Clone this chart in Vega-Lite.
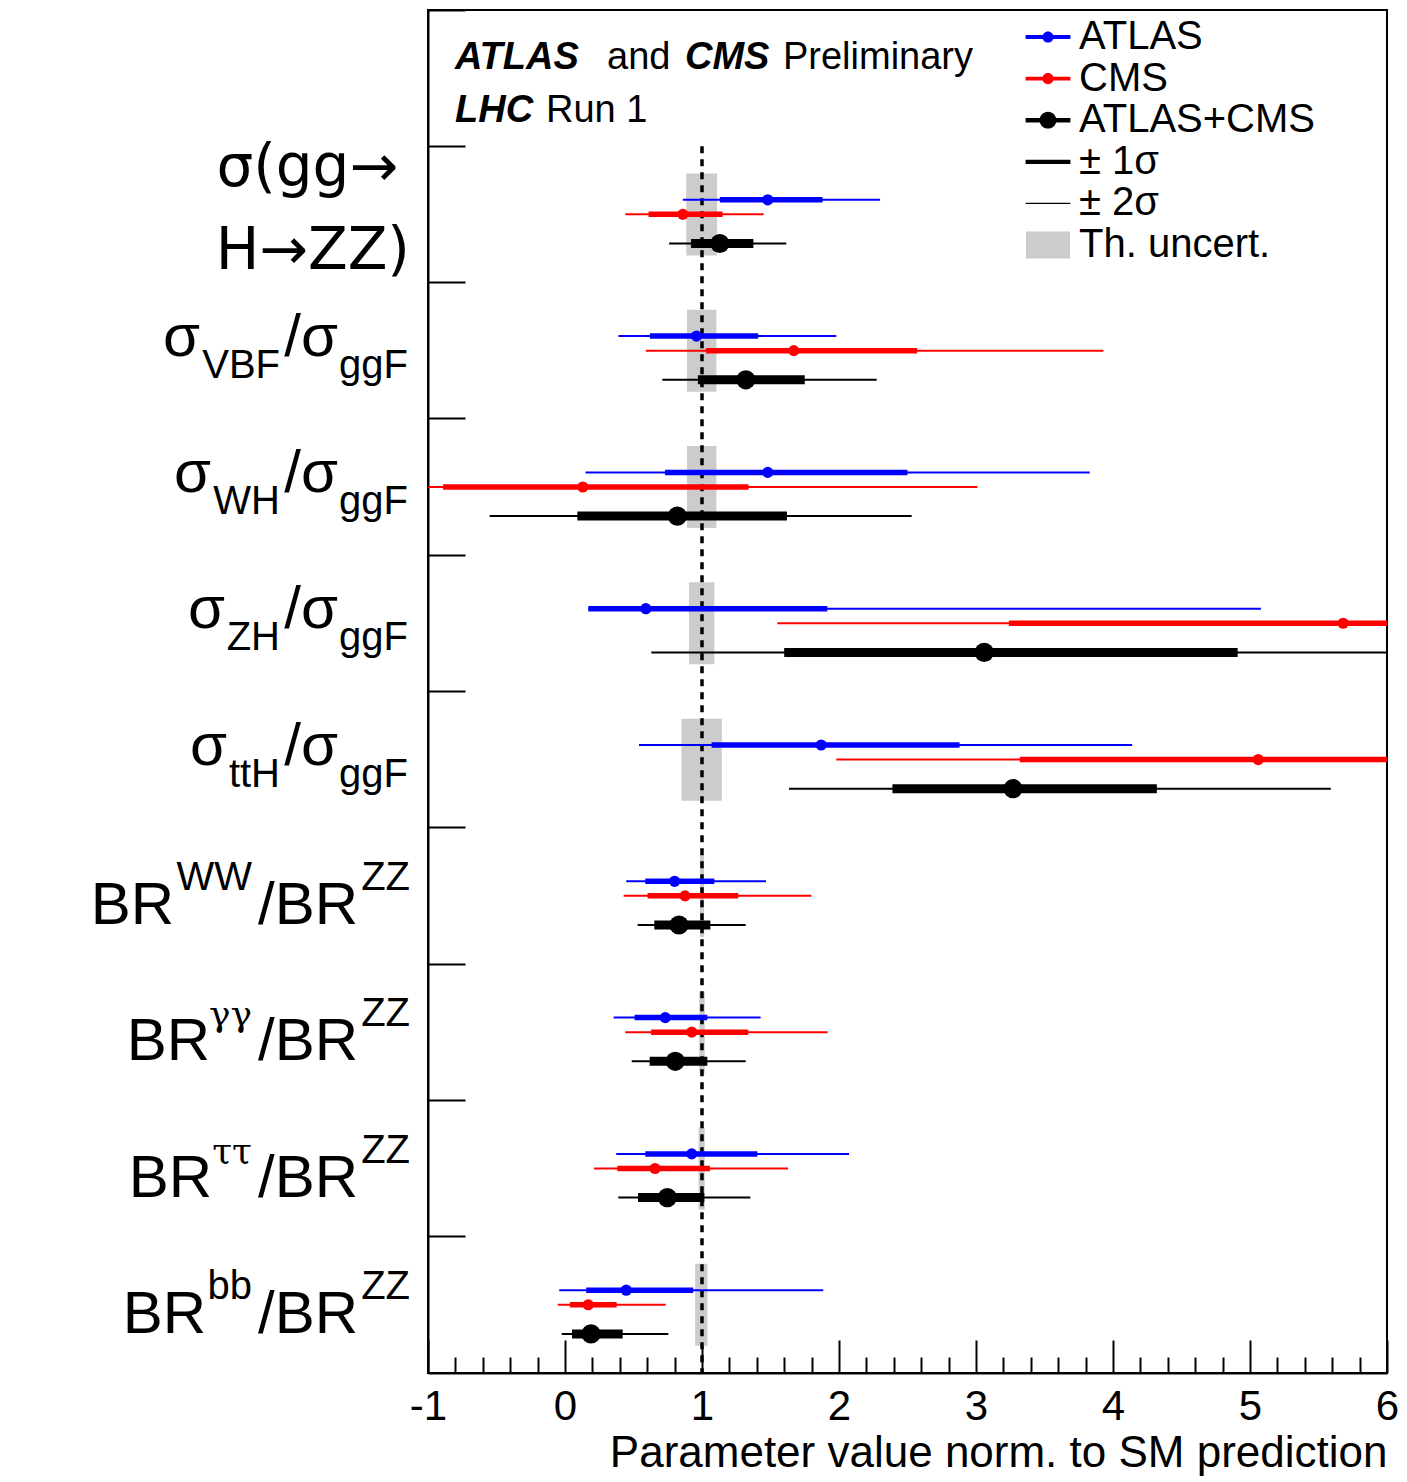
{
  "$schema": "https://vega.github.io/schema/vega-lite/v6.json",
  "autosize": "none",
  "padding": {"left": 428, "top": 10, "right": 20, "bottom": 109},
  "width": 959,
  "height": 1363,
  "config": {
    "font": "Liberation Sans",
    "view": {"stroke": "black", "strokeWidth": 2},
    "axis": {"grid": false}
  },
  "resolve": {"axis": {"x": "independent"}},
  "datasets": {
    "results": [
      {"cat": "σ(gg→H→ZZ)", "series": "ATLAS", "val": 1.48, "lo1": 1.13, "hi1": 1.88, "lo2": 0.86, "hi2": 2.30},
      {"cat": "σ(gg→H→ZZ)", "series": "CMS", "val": 0.86, "lo1": 0.61, "hi1": 1.15, "lo2": 0.44, "hi2": 1.45},
      {"cat": "σ(gg→H→ZZ)", "series": "ATLAS+CMS", "val": 1.13, "lo1": 0.92, "hi1": 1.375, "lo2": 0.76, "hi2": 1.615},
      {"cat": "σVBF/σggF", "series": "ATLAS", "val": 0.96, "lo1": 0.62, "hi1": 1.41, "lo2": 0.39, "hi2": 1.98},
      {"cat": "σVBF/σggF", "series": "CMS", "val": 1.67, "lo1": 1.03, "hi1": 2.57, "lo2": 0.59, "hi2": 3.93},
      {"cat": "σVBF/σggF", "series": "ATLAS+CMS", "val": 1.32, "lo1": 0.97, "hi1": 1.75, "lo2": 0.71, "hi2": 2.275},
      {"cat": "σWH/σggF", "series": "ATLAS", "val": 1.48, "lo1": 0.73, "hi1": 2.50, "lo2": 0.15, "hi2": 3.83},
      {"cat": "σWH/σggF", "series": "CMS", "val": 0.13, "lo1": -0.89, "hi1": 1.34, "lo2": -1.4, "hi2": 3.01},
      {"cat": "σWH/σggF", "series": "ATLAS+CMS", "val": 0.82, "lo1": 0.09, "hi1": 1.62, "lo2": -0.55, "hi2": 2.53},
      {"cat": "σZH/σggF", "series": "ATLAS", "val": 0.59, "lo1": 0.17, "hi1": 1.915, "lo2": 0.17, "hi2": 5.08},
      {"cat": "σZH/σggF", "series": "CMS", "val": 5.68, "lo1": 3.24, "hi1": 8.0, "lo2": 1.55, "hi2": 10.5},
      {"cat": "σZH/σggF", "series": "ATLAS+CMS", "val": 3.06, "lo1": 1.60, "hi1": 4.91, "lo2": 0.63, "hi2": 7.5},
      {"cat": "σttH/σggF", "series": "ATLAS", "val": 1.87, "lo1": 1.07, "hi1": 2.88, "lo2": 0.54, "hi2": 4.14},
      {"cat": "σttH/σggF", "series": "CMS", "val": 5.06, "lo1": 3.32, "hi1": 7.0, "lo2": 1.98, "hi2": 9.5},
      {"cat": "σttH/σggF", "series": "ATLAS+CMS", "val": 3.27, "lo1": 2.39, "hi1": 4.32, "lo2": 1.635, "hi2": 5.59},
      {"cat": "BRWW/BRZZ", "series": "ATLAS", "val": 0.80, "lo1": 0.586, "hi1": 1.09, "lo2": 0.447, "hi2": 1.467},
      {"cat": "BRWW/BRZZ", "series": "CMS", "val": 0.876, "lo1": 0.603, "hi1": 1.265, "lo2": 0.428, "hi2": 1.798},
      {"cat": "BRWW/BRZZ", "series": "ATLAS+CMS", "val": 0.832, "lo1": 0.652, "hi1": 1.061, "lo2": 0.53, "hi2": 1.319},
      {"cat": "BRγγ/BRZZ", "series": "ATLAS", "val": 0.732, "lo1": 0.508, "hi1": 1.039, "lo2": 0.355, "hi2": 1.428},
      {"cat": "BRγγ/BRZZ", "series": "CMS", "val": 0.925, "lo1": 0.628, "hi1": 1.338, "lo2": 0.44, "hi2": 1.917},
      {"cat": "BRγγ/BRZZ", "series": "ATLAS+CMS", "val": 0.805, "lo1": 0.618, "hi1": 1.039, "lo2": 0.487, "hi2": 1.319},
      {"cat": "BRττ/BRZZ", "series": "ATLAS", "val": 0.925, "lo1": 0.586, "hi1": 1.404, "lo2": 0.374, "hi2": 2.073},
      {"cat": "BRττ/BRZZ", "series": "CMS", "val": 0.657, "lo1": 0.382, "hi1": 1.058, "lo2": 0.212, "hi2": 1.628},
      {"cat": "BRττ/BRZZ", "series": "ATLAS+CMS", "val": 0.747, "lo1": 0.533, "hi1": 1.017, "lo2": 0.389, "hi2": 1.353},
      {"cat": "BRbb/BRZZ", "series": "ATLAS", "val": 0.447, "lo1": 0.155, "hi1": 0.936, "lo2": -0.042, "hi2": 1.885},
      {"cat": "BRbb/BRZZ", "series": "CMS", "val": 0.17, "lo1": 0.036, "hi1": 0.377, "lo2": -0.053, "hi2": 0.735},
      {"cat": "BRbb/BRZZ", "series": "ATLAS+CMS", "val": 0.19, "lo1": 0.051, "hi1": 0.421, "lo2": -0.024, "hi2": 0.754}
    ],
    "theory": [
      {"cat": "σ(gg→H→ZZ)", "lo": 0.885, "hi": 1.11},
      {"cat": "σVBF/σggF", "lo": 0.89, "hi": 1.105},
      {"cat": "σWH/σggF", "lo": 0.89, "hi": 1.105},
      {"cat": "σZH/σggF", "lo": 0.905, "hi": 1.09},
      {"cat": "σttH/σggF", "lo": 0.85, "hi": 1.145},
      {"cat": "BRWW/BRZZ", "lo": 0.985, "hi": 1.015},
      {"cat": "BRγγ/BRZZ", "lo": 0.98, "hi": 1.02},
      {"cat": "BRττ/BRZZ", "lo": 0.975, "hi": 1.02},
      {"cat": "BRbb/BRZZ", "lo": 0.95, "hi": 1.04}
    ],
    "labels": [
      {"cat": "σ(gg→H→ZZ)", "group": "gg", "line1": "σ(gg→", "line2": "H→ZZ)"},
      {"cat": "σVBF/σggF", "group": "sigma", "lead": "σ", "script": "VBF"},
      {"cat": "σWH/σggF", "group": "sigma", "lead": "σ", "script": "WH"},
      {"cat": "σZH/σggF", "group": "sigma", "lead": "σ", "script": "ZH"},
      {"cat": "σttH/σggF", "group": "sigma", "lead": "σ", "script": "ttH"},
      {"cat": "BRWW/BRZZ", "group": "br", "lead": "BR", "script": "WW", "greek": false},
      {"cat": "BRγγ/BRZZ", "group": "br", "lead": "BR", "script": "γγ", "greek": true},
      {"cat": "BRττ/BRZZ", "group": "br", "lead": "BR", "script": "ττ", "greek": true},
      {"cat": "BRbb/BRZZ", "group": "br", "lead": "BR", "script": "bb", "greek": false}
    ],
    "legend": [
      {"series": "ATLAS"},
      {"series": "CMS"},
      {"series": "ATLAS+CMS"},
      {"series": "± 1σ"},
      {"series": "± 2σ"},
      {"series": "Th. uncert."}
    ]
  },
  "layer": [
    {
      "data": {"name": "legend"},
      "mark": {"type": "point", "filled": true, "opacity": 0},
      "encoding": {
        "x": {"datum": 0, "type": "quantitative", "axis": null},
        "y": {"datum": "top", "type": "nominal"},
        "color": {
          "field": "series", "type": "nominal",
          "scale": {
            "domain": ["ATLAS", "CMS", "ATLAS+CMS", "± 1σ", "± 2σ", "Th. uncert."],
            "range": ["#0000ff", "#ff0000", "#000000", "#000000", "#000000", "#cccccc"]
          },
          "legend": {
            "title": null, "orient": "none", "legendX": 600, "legendY": 7,
            "symbolSize": 1600, "symbolStrokeWidth": 0, "symbolOpacity": 1,
            "labelFontSize": 40, "labelColor": "black", "labelOffset": 11, "labelLimit": 0,
            "rowPadding": 1.6, "padding": 0
          }
        },
        "shape": {
          "field": "series", "type": "nominal",
          "scale": {
            "domain": ["ATLAS", "CMS", "ATLAS+CMS", "± 1σ", "± 2σ", "Th. uncert."],
            "range": [
              "M-1.12,-0.095H1.12V0.095H-1.12ZM-0.28,0A0.28,0.28,0,1,1,0.28,0A0.28,0.28,0,1,1,-0.28,0Z",
              "M-1.12,-0.095H1.12V0.095H-1.12ZM-0.28,0A0.28,0.28,0,1,1,0.28,0A0.28,0.28,0,1,1,-0.28,0Z",
              "M-1.12,-0.115H1.12V0.115H-1.12ZM-0.42,0A0.42,0.42,0,1,1,0.42,0A0.42,0.42,0,1,1,-0.42,0Z",
              "M-1.12,-0.105H1.12V0.105H-1.12Z",
              "M-1.12,-0.036H1.12V0.036H-1.12Z",
              "M-1.1,-0.68H1.1V0.68H-1.1Z"
            ]
          },
          "legend": {
            "title": null, "orient": "none", "legendX": 600, "legendY": 7,
            "symbolSize": 1600, "symbolStrokeWidth": 0, "symbolOpacity": 1,
            "labelFontSize": 40, "labelColor": "black", "labelOffset": 11, "labelLimit": 0,
            "rowPadding": 1.6, "padding": 0
          }
        }
      }
    },
    {
      "data": {"name": "theory"},
      "mark": {"type": "bar", "color": "#cccccc", "height": 82},
      "encoding": {
        "x": {
          "field": "lo", "type": "quantitative",
          "scale": {"domain": [-1, 6], "nice": false, "zero": false},
          "axis": {
            "orient": "bottom",
            "values": [-1, 0, 1, 2, 3, 4, 5, 6],
            "labelExpr": "'' + round(datum.value)",
            "tickSize": -33, "tickWidth": 2, "tickColor": "black",
            "domainColor": "black", "domainWidth": 2,
            "labelFontSize": 42, "labelColor": "black", "labelPadding": 46, "labelFlush": false, "labelOverlap": false,
            "title": "Parameter value norm. to SM prediction",
            "titleFontSize": 44, "titleFontWeight": "normal", "titleColor": "black",
            "titleAnchor": "end", "titlePadding": 4
          }
        },
        "x2": {"field": "hi"},
        "y": {
          "field": "cat", "type": "nominal",
          "scale": {
            "domain": ["top", "σ(gg→H→ZZ)", "σVBF/σggF", "σWH/σggF", "σZH/σggF", "σttH/σggF", "BRWW/BRZZ", "BRγγ/BRZZ", "BRττ/BRZZ", "BRbb/BRZZ"],
            "paddingInner": 0, "paddingOuter": 0
          },
          "axis": {
            "labels": false, "title": null, "bandPosition": 0,
            "tickSize": -37, "tickWidth": 2, "tickColor": "black",
            "domainColor": "black", "domainWidth": 2
          }
        }
      }
    },
    {
      "data": {"values": [{"sm": 1}]},
      "mark": {"type": "rule", "strokeDash": [7, 6], "strokeWidth": 3.5, "color": "black"},
      "encoding": {
        "x": {
          "field": "sm", "type": "quantitative",
          "axis": {
            "orient": "bottom",
            "values": [-0.8,-0.6,-0.4,-0.2,0.2,0.4,0.6,0.8,1.2,1.4,1.6,1.8,2.2,2.4,2.6,2.8,3.2,3.4,3.6,3.8,4.2,4.4,4.6,4.8,5.2,5.4,5.6,5.8],
            "labels": false, "domain": false, "title": null,
            "tickSize": -16, "tickWidth": 2, "tickColor": "black"
          }
        },
        "y": {"datum": "σ(gg→H→ZZ)", "type": "nominal", "bandPosition": 0},
        "y2": {"value": "height"}
      }
    },
    {
      "data": {"name": "results"},
      "mark": {"type": "rule", "strokeWidth": 2, "clip": true},
      "encoding": {
        "x": {"field": "lo2", "type": "quantitative", "axis": null},
        "x2": {"field": "hi2"},
        "y": {"field": "cat", "type": "nominal"},
        "yOffset": {
          "field": "series", "type": "nominal",
          "scale": {"type": "point", "domain": ["ATLAS", "CMS", "gap", "ATLAS+CMS"], "range": [53.5, 97.2], "padding": 0}
        },
        "color": {"field": "series", "type": "nominal", "legend": null}
      }
    },
    {
      "data": {"name": "results"},
      "transform": [{"filter": "datum.series != 'ATLAS+CMS'"}],
      "mark": {"type": "rule", "strokeWidth": 5.5, "clip": true},
      "encoding": {
        "x": {"field": "lo1", "type": "quantitative", "axis": null},
        "x2": {"field": "hi1"},
        "y": {"field": "cat", "type": "nominal"},
        "yOffset": {"field": "series", "type": "nominal"},
        "color": {"field": "series", "type": "nominal", "legend": null}
      }
    },
    {
      "data": {"name": "results"},
      "transform": [{"filter": "datum.series == 'ATLAS+CMS'"}],
      "mark": {"type": "rule", "strokeWidth": 9, "clip": true},
      "encoding": {
        "x": {"field": "lo1", "type": "quantitative", "axis": null},
        "x2": {"field": "hi1"},
        "y": {"field": "cat", "type": "nominal"},
        "yOffset": {"field": "series", "type": "nominal"},
        "color": {"field": "series", "type": "nominal", "legend": null}
      }
    },
    {
      "data": {"name": "results"},
      "transform": [{"filter": "datum.series != 'ATLAS+CMS'"}],
      "mark": {"type": "point", "filled": true, "opacity": 1, "clip": true, "shape": "circle", "size": 125},
      "encoding": {
        "x": {"field": "val", "type": "quantitative", "axis": null},
        "y": {"field": "cat", "type": "nominal"},
        "yOffset": {"field": "series", "type": "nominal"},
        "color": {"field": "series", "type": "nominal", "legend": null}
      }
    },
    {
      "data": {"name": "results"},
      "transform": [{"filter": "datum.series == 'ATLAS+CMS'"}],
      "mark": {"type": "point", "filled": true, "opacity": 1, "clip": true, "shape": "circle", "size": 370},
      "encoding": {
        "x": {"field": "val", "type": "quantitative", "axis": null},
        "y": {"field": "cat", "type": "nominal"},
        "yOffset": {"field": "series", "type": "nominal"},
        "color": {"field": "series", "type": "nominal", "legend": null}
      }
    },
    {
      "data": {"values": [{"t": "ATLAS"}]},
      "mark": {"type": "text", "align": "left", "baseline": "alphabetic", "fontSize": 38, "fontWeight": "bold", "fontStyle": "italic", "dy": -9},
      "encoding": {"x": {"datum": -0.803, "axis": null}, "y": {"datum": "top", "type": "nominal"}, "text": {"field": "t"}}
    },
    {
      "data": {"values": [{"t": "and"}]},
      "mark": {"type": "text", "align": "left", "baseline": "alphabetic", "fontSize": 38, "dy": -9},
      "encoding": {"x": {"datum": 0.307, "axis": null}, "y": {"datum": "top", "type": "nominal"}, "text": {"field": "t"}}
    },
    {
      "data": {"values": [{"t": "CMS"}]},
      "mark": {"type": "text", "align": "left", "baseline": "alphabetic", "fontSize": 38, "fontWeight": "bold", "fontStyle": "italic", "dy": -9},
      "encoding": {"x": {"datum": 0.876, "axis": null}, "y": {"datum": "top", "type": "nominal"}, "text": {"field": "t"}}
    },
    {
      "data": {"values": [{"t": "Preliminary"}]},
      "mark": {"type": "text", "align": "left", "baseline": "alphabetic", "fontSize": 38, "dy": -9},
      "encoding": {"x": {"datum": 1.591, "axis": null}, "y": {"datum": "top", "type": "nominal"}, "text": {"field": "t"}}
    },
    {
      "data": {"values": [{"t": "LHC"}]},
      "mark": {"type": "text", "align": "left", "baseline": "alphabetic", "fontSize": 38, "fontWeight": "bold", "fontStyle": "italic", "dy": 44},
      "encoding": {"x": {"datum": -0.803, "axis": null}, "y": {"datum": "top", "type": "nominal"}, "text": {"field": "t"}}
    },
    {
      "data": {"values": [{"t": "Run 1"}]},
      "mark": {"type": "text", "align": "left", "baseline": "alphabetic", "fontSize": 38, "dy": 44},
      "encoding": {"x": {"datum": -0.139, "axis": null}, "y": {"datum": "top", "type": "nominal"}, "text": {"field": "t"}}
    },
    {
      "data": {"name": "labels"},
      "transform": [{"filter": "datum.group == 'gg'"}],
      "mark": {"type": "text", "align": "right", "baseline": "alphabetic", "font": "DejaVu Sans", "fontSize": 58, "dx": -30, "dy": -28},
      "encoding": {"x": {"datum": -1, "axis": null}, "y": {"field": "cat", "type": "nominal"}, "text": {"field": "line1"}}
    },
    {
      "data": {"name": "labels"},
      "transform": [{"filter": "datum.group == 'gg'"}],
      "mark": {"type": "text", "align": "right", "baseline": "alphabetic", "font": "DejaVu Sans", "fontSize": 58, "dx": -18, "dy": 55},
      "encoding": {"x": {"datum": -1, "axis": null}, "y": {"field": "cat", "type": "nominal"}, "text": {"field": "line2"}}
    },
    {
      "data": {"name": "labels"},
      "transform": [{"filter": "datum.group == 'sigma'"}],
      "mark": {"type": "text", "align": "right", "baseline": "alphabetic", "fontSize": 40, "dx": -20, "dy": 27, "text": "ggF"},
      "encoding": {"x": {"datum": -1, "axis": null}, "y": {"field": "cat", "type": "nominal"}}
    },
    {
      "data": {"name": "labels"},
      "transform": [{"filter": "datum.group == 'sigma'"}],
      "mark": {"type": "text", "align": "right", "baseline": "alphabetic", "fontSize": 60, "dx": -90, "dy": 5, "text": "/σ"},
      "encoding": {"x": {"datum": -1, "axis": null}, "y": {"field": "cat", "type": "nominal"}}
    },
    {
      "data": {"name": "labels"},
      "transform": [{"filter": "datum.group == 'sigma'"}],
      "mark": {"type": "text", "align": "right", "baseline": "alphabetic", "fontSize": 40, "dx": -148, "dy": 27},
      "encoding": {"x": {"datum": -1, "axis": null}, "y": {"field": "cat", "type": "nominal"}, "text": {"field": "script"}}
    },
    {
      "data": {"name": "labels"},
      "transform": [{"filter": "datum.script == 'VBF'"}],
      "mark": {"type": "text", "align": "right", "baseline": "alphabetic", "fontSize": 60, "dx": -228, "dy": 5},
      "encoding": {"x": {"datum": -1, "axis": null}, "y": {"field": "cat", "type": "nominal"}, "text": {"field": "lead"}}
    },
    {
      "data": {"name": "labels"},
      "transform": [{"filter": "datum.script == 'WH'"}],
      "mark": {"type": "text", "align": "right", "baseline": "alphabetic", "fontSize": 60, "dx": -217, "dy": 5},
      "encoding": {"x": {"datum": -1, "axis": null}, "y": {"field": "cat", "type": "nominal"}, "text": {"field": "lead"}}
    },
    {
      "data": {"name": "labels"},
      "transform": [{"filter": "datum.script == 'ZH'"}],
      "mark": {"type": "text", "align": "right", "baseline": "alphabetic", "fontSize": 60, "dx": -203, "dy": 5},
      "encoding": {"x": {"datum": -1, "axis": null}, "y": {"field": "cat", "type": "nominal"}, "text": {"field": "lead"}}
    },
    {
      "data": {"name": "labels"},
      "transform": [{"filter": "datum.script == 'ttH'"}],
      "mark": {"type": "text", "align": "right", "baseline": "alphabetic", "fontSize": 60, "dx": -201, "dy": 5},
      "encoding": {"x": {"datum": -1, "axis": null}, "y": {"field": "cat", "type": "nominal"}, "text": {"field": "lead"}}
    },
    {
      "data": {"name": "labels"},
      "transform": [{"filter": "datum.group == 'br'"}],
      "mark": {"type": "text", "align": "right", "baseline": "alphabetic", "fontSize": 40, "dx": -18, "dy": -6, "text": "ZZ"},
      "encoding": {"x": {"datum": -1, "axis": null}, "y": {"field": "cat", "type": "nominal"}}
    },
    {
      "data": {"name": "labels"},
      "transform": [{"filter": "datum.group == 'br'"}],
      "mark": {"type": "text", "align": "right", "baseline": "alphabetic", "fontSize": 60, "dx": -70, "dy": 28, "text": "/BR"},
      "encoding": {"x": {"datum": -1, "axis": null}, "y": {"field": "cat", "type": "nominal"}}
    },
    {
      "data": {"name": "labels"},
      "transform": [{"filter": "datum.group == 'br' && !datum.greek"}],
      "mark": {"type": "text", "align": "right", "baseline": "alphabetic", "fontSize": 40, "dx": -176, "dy": -6},
      "encoding": {"x": {"datum": -1, "axis": null}, "y": {"field": "cat", "type": "nominal"}, "text": {"field": "script"}}
    },
    {
      "data": {"name": "labels"},
      "transform": [{"filter": "datum.group == 'br' && datum.greek"}],
      "mark": {"type": "text", "align": "right", "baseline": "alphabetic", "font": "DejaVu Serif", "fontSize": 36, "dx": -176, "dy": -6},
      "encoding": {"x": {"datum": -1, "axis": null}, "y": {"field": "cat", "type": "nominal"}, "text": {"field": "script"}}
    },
    {
      "data": {"name": "labels"},
      "transform": [{"filter": "datum.script == 'WW'"}],
      "mark": {"type": "text", "align": "right", "baseline": "alphabetic", "fontSize": 60, "dx": -254, "dy": 28},
      "encoding": {"x": {"datum": -1, "axis": null}, "y": {"field": "cat", "type": "nominal"}, "text": {"field": "lead"}}
    },
    {
      "data": {"name": "labels"},
      "transform": [{"filter": "datum.script == 'γγ'"}],
      "mark": {"type": "text", "align": "right", "baseline": "alphabetic", "fontSize": 60, "dx": -218, "dy": 28},
      "encoding": {"x": {"datum": -1, "axis": null}, "y": {"field": "cat", "type": "nominal"}, "text": {"field": "lead"}}
    },
    {
      "data": {"name": "labels"},
      "transform": [{"filter": "datum.script == 'ττ'"}],
      "mark": {"type": "text", "align": "right", "baseline": "alphabetic", "fontSize": 60, "dx": -216, "dy": 28},
      "encoding": {"x": {"datum": -1, "axis": null}, "y": {"field": "cat", "type": "nominal"}, "text": {"field": "lead"}}
    },
    {
      "data": {"name": "labels"},
      "transform": [{"filter": "datum.script == 'bb'"}],
      "mark": {"type": "text", "align": "right", "baseline": "alphabetic", "fontSize": 60, "dx": -222, "dy": 28},
      "encoding": {"x": {"datum": -1, "axis": null}, "y": {"field": "cat", "type": "nominal"}, "text": {"field": "lead"}}
    }
  ]
}
